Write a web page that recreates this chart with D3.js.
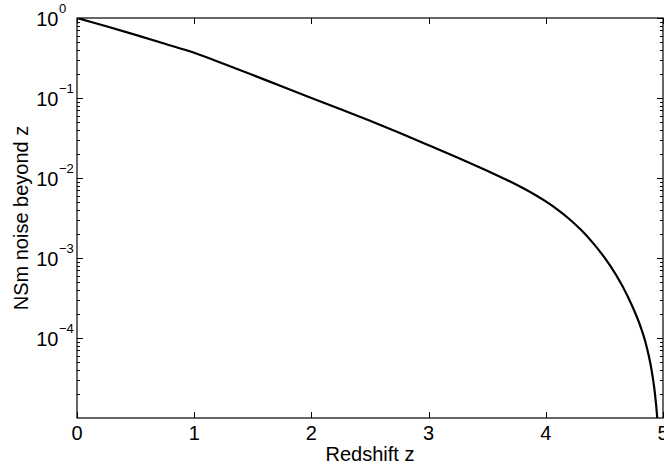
<!DOCTYPE html>
<html><head><meta charset="utf-8">
<script src="https://cdn.jsdelivr.net/npm/d3@7"></script>
<style>body{margin:0;background:#fff}svg{display:block}text{font-family:"Liberation Sans",Arial,sans-serif;fill:#000}</style>
</head><body><svg id="c" width="664" height="469"></svg>
<script>
const redshift = [0, 0.25, 0.5, 0.75, 1.0, 1.25, 1.5, 1.75, 2.0, 2.25, 2.5, 2.75, 3.0, 3.25, 3.5, 3.6, 3.7, 3.8, 3.9, 4.0, 4.1, 4.2, 4.3, 4.4, 4.5, 4.6, 4.7, 4.8, 4.85, 4.9, 4.93, 4.95, 4.96];
const noise = [1, 0.789, 0.615, 0.476, 0.367, 0.268, 0.194, 0.139, 0.1, 0.0724, 0.0519, 0.0367, 0.0257, 0.01789, 0.0123, 0.01054, 0.008974, 0.007551, 0.006266, 0.005093, 0.004027, 0.003076, 0.002249, 0.001556, 0.001016, 0.000612, 0.000329, 0.00015, 0.0000891, 0.0000417, 0.0000209, 0.0000105, 0.0000063];
const xTicks = [0, 1, 2, 3, 4, 5];
const yExponents = [0, -1, -2, -3, -4];
const xLabel = "Redshift z";
const yLabel = "NSm noise beyond z";

const L = 77, R = 663, T = 18, B = 418;
const svg = d3.select("#c");
const x = d3.scaleLinear().domain([0, 5]).range([L, R]);
const y = d3.scaleLog().domain([1e-5, 1]).range([B, T]);

svg.append("clipPath").attr("id", "clip").append("rect")
  .attr("x", L).attr("y", T).attr("width", R - L).attr("height", B - T);

const data = redshift.map((z, i) => [z, noise[i]]);
svg.append("path").datum(data)
  .attr("clip-path", "url(#clip)")
  .attr("fill", "none").attr("stroke", "#000").attr("stroke-width", 2.2)
  .attr("d", d3.line().x(d => x(d[0])).y(d => y(d[1])).curve(d3.curveMonotoneX));

// frame
svg.append("rect").attr("x", L).attr("y", T).attr("width", R - L).attr("height", B - T)
  .attr("fill", "none").attr("stroke", "#000").attr("stroke-width", 1.2);

// x ticks (inward, bottom and top)
const g = svg.append("g").attr("stroke", "#000").attr("stroke-width", 1);
xTicks.forEach(t => {
  const px = Math.round(x(t)) + 0.5;
  g.append("line").attr("x1", px).attr("x2", px).attr("y1", B).attr("y2", B - 6);
  g.append("line").attr("x1", px).attr("x2", px).attr("y1", T).attr("y2", T + 6);
});
// y ticks major and minor
const minor = [];
for (let e = -5; e < 0; e++) for (let m = 2; m <= 9; m++) minor.push(m * Math.pow(10, e));
yExponents.forEach(e => {
  const py = Math.round(y(Math.pow(10, e))) + 0.5;
  g.append("line").attr("x1", L).attr("x2", L + 6).attr("y1", py).attr("y2", py);
  g.append("line").attr("x1", R).attr("x2", R - 6).attr("y1", py).attr("y2", py);
});
minor.forEach(v => {
  const py = Math.round(y(v)) + 0.5;
  g.append("line").attr("x1", L).attr("x2", L + 3).attr("y1", py).attr("y2", py);
  g.append("line").attr("x1", R).attr("x2", R - 3).attr("y1", py).attr("y2", py);
});

// x tick labels
xTicks.forEach(t => {
  svg.append("text").attr("x", x(t)).attr("y", B + 22).attr("text-anchor", "middle")
    .attr("font-size", 20).text(t);
});
// y tick labels 10^e
yExponents.forEach(e => {
  const py = y(Math.pow(10, e));
  svg.append("text").attr("x", 58.5).attr("y", py + 8).attr("text-anchor", "end")
    .attr("font-size", 20).text("10");
  svg.append("text").attr("x", 59).attr("y", py - 5).attr("text-anchor", "start")
    .attr("font-size", 13).text(e === 0 ? "0" : "\u2212" + (-e));
});

// axis labels
svg.append("text").attr("x", (L + R) / 2).attr("y", 461).attr("text-anchor", "middle")
  .attr("font-size", 20).text(xLabel);
svg.append("text").attr("transform", `translate(28,${(T + B) / 2}) rotate(-90)`)
  .attr("text-anchor", "middle").attr("font-size", 20).text(yLabel);
</script></body></html>
